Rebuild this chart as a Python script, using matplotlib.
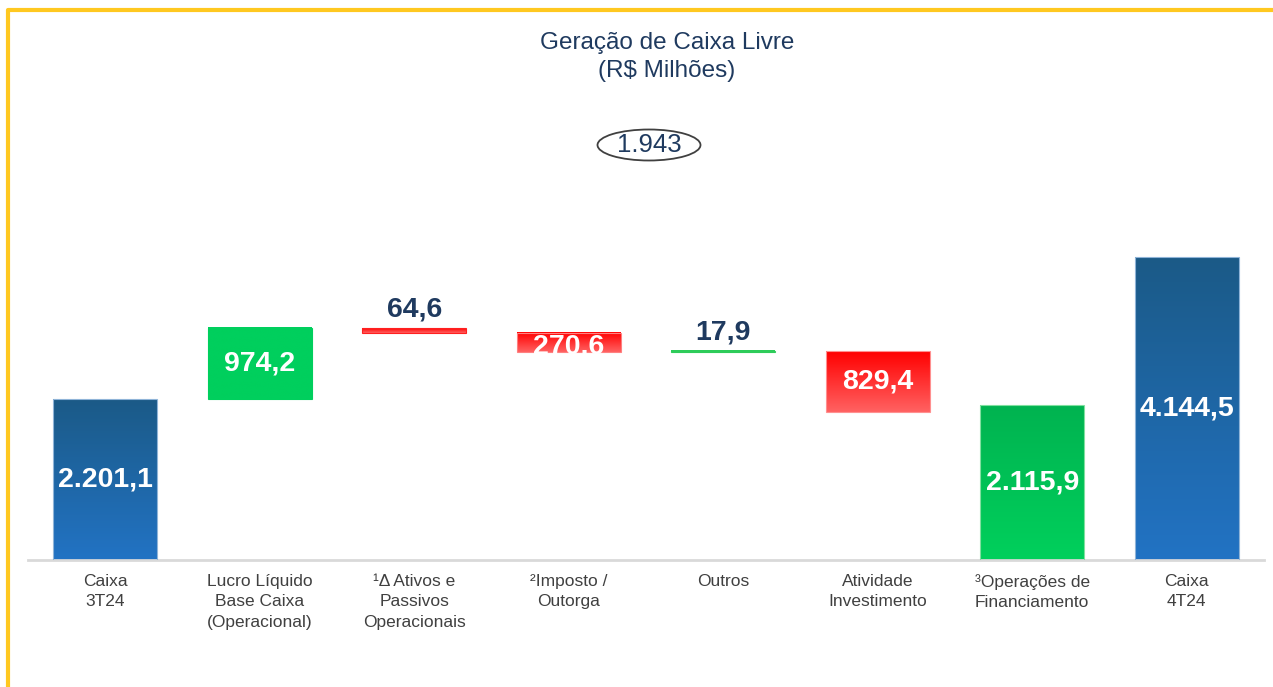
import numpy as np
import matplotlib.pyplot as plt
from matplotlib.patches import Ellipse
from matplotlib.lines import Line2D
from matplotlib.colors import LinearSegmentedColormap

# ───── Data ─────────────────────────────────────────────────
categories = ["Caixa\n3T24", "Lucro Líquido\nBase Caixa\n(Operacional)",
              "¹Δ Ativos e\nPassivos\nOperacionais", "²Imposto /\nOutorga",
              "Outros", "Atividade\nInvestimento", "³Operações de\nFinanciamento",
              "Caixa\n4T24"]
values = [2201.1, 974.2, -64.6, -270.6, 17.9, -829.4, 2115.9, 4144.5]
kinds = ["total", "delta", "delta", "delta", "delta", "delta", "from_zero", "total"]
value_labels = ["2.201,1", "974,2", "64,6", "270,6", "17,9", "829,4", "2.115,9", "4.144,5"]

# ───── Compute bar bottoms / tops ───────────────────────────
bottoms, tops = [], []
running = 0.0
for v, k in zip(values, kinds):
    if k == "total":
        b, t = 0.0, v
        running = v
    elif k == "from_zero":
        b, t = 0.0, v
        running += v
    else:
        b, t = (running, running + v) if v >= 0 else (running + v, running)
        running += v
    bottoms.append(b)
    tops.append(t)

free_cash = values[-1] - values[0]

# colour gradients (top, bottom)
BLUE = ("#1b5a87", "#2273c4")
GREEN = ("#00b350", "#00d05c")
GREEN_FLAT = ("#00cf5d", "#00cf5d")
RED = ("#ff0000", "#ff6262")
grads = [BLUE, GREEN_FLAT, RED, RED, ("#2ecc5a", "#2ecc5a"), RED, GREEN, BLUE]
edges = ["#8fb4d8", "#00cf5d", "#ff2020", "#ff8080", "#2ecc5a", "#ff9090", "#80e0a0", "#8fb4d8"]

NAVY = "#1f3a5f"

fig = plt.figure(figsize=(12.73, 6.87), dpi=100)
ax = fig.add_axes([28/1273, 127/687, 1236/1273, 330/687])

x = np.arange(len(values))
w = 0.67
ymax = 330 / 0.0731

bars = ax.bar(x, np.array(tops) - np.array(bottoms), bottom=bottoms, width=w,
              color="none", edgecolor=edges, linewidth=0.8, zorder=3)

# gradient fill for each bar
for i, (c_top, c_bot) in enumerate(grads):
    grad = np.linspace(0, 1, 256).reshape(-1, 1)
    cm = LinearSegmentedColormap.from_list(f"g{i}", [c_top, c_bot])
    ax.imshow(grad, cmap=cm, aspect="auto", origin="upper",
              extent=[x[i] - w/2, x[i] + w/2, bottoms[i], tops[i]], zorder=2)

# value labels
for i, lab in enumerate(value_labels):
    if i in (2, 4):
        ax.text(x[i], tops[i] + 80, lab, ha="center", va="bottom", color=NAVY,
                fontsize=20.5, fontweight="bold", family="Liberation Sans", zorder=4)
    elif i == 3:
        t = ax.text(x[i], (tops[i] + bottoms[i]) / 2 - 55, lab, ha="center", va="center",
                    color="white", fontsize=20.5, fontweight="bold",
                    family="Liberation Sans", zorder=4)
        t.set_clip_path(bars[i])
    else:
        ax.text(x[i], (tops[i] + bottoms[i]) / 2, lab, ha="center", va="center",
                color="white", fontsize=20.5, fontweight="bold",
                family="Liberation Sans", zorder=4)

ax.set_xlim(-0.5, len(values) - 0.5)
ax.set_ylim(0, ymax)
for s in ["top", "right", "left"]:
    ax.spines[s].set_visible(False)
ax.spines["bottom"].set_color("#d9d9d9")
ax.spines["bottom"].set_linewidth(2)
ax.set_yticks([])
ax.set_xticks(x)
ax.set_xticklabels(categories, fontsize=12.5, color="#404040",
                   family="Liberation Sans", linespacing=1.45)
ax.tick_params(axis="x", length=0, pad=10)

# titles
fig.text(667/1273, 1 - 43/687, "Geração de Caixa Livre", ha="center", va="center",
         fontsize=17.5, color=NAVY, family="Liberation Sans")
fig.text(667/1273, 1 - 71/687, "(R$ Milhões)", ha="center", va="center",
         fontsize=17.5, color=NAVY, family="Liberation Sans")

# free cash flow bubble
fig.patches.append(Ellipse((649/1273, 1 - 145/687), 103/1273, 31/687,
                           transform=fig.transFigure, facecolor="white",
                           edgecolor="#404040", linewidth=1.3))
fcf = f"{free_cash:,.0f}".replace(",", ".")
fig.text(649/1273, 1 - 145/687, fcf, ha="center", va="center",
         fontsize=18.5, color=NAVY, family="Liberation Sans")

# yellow frame
fig.lines.append(Line2D([7.5/1273, 7.5/1273, 1.01], [-0.01, 1 - 9.5/687, 1 - 9.5/687],
                        transform=fig.transFigure, color="#ffc820", linewidth=3))

fig.savefig("out.png", dpi=100, facecolor="white")
